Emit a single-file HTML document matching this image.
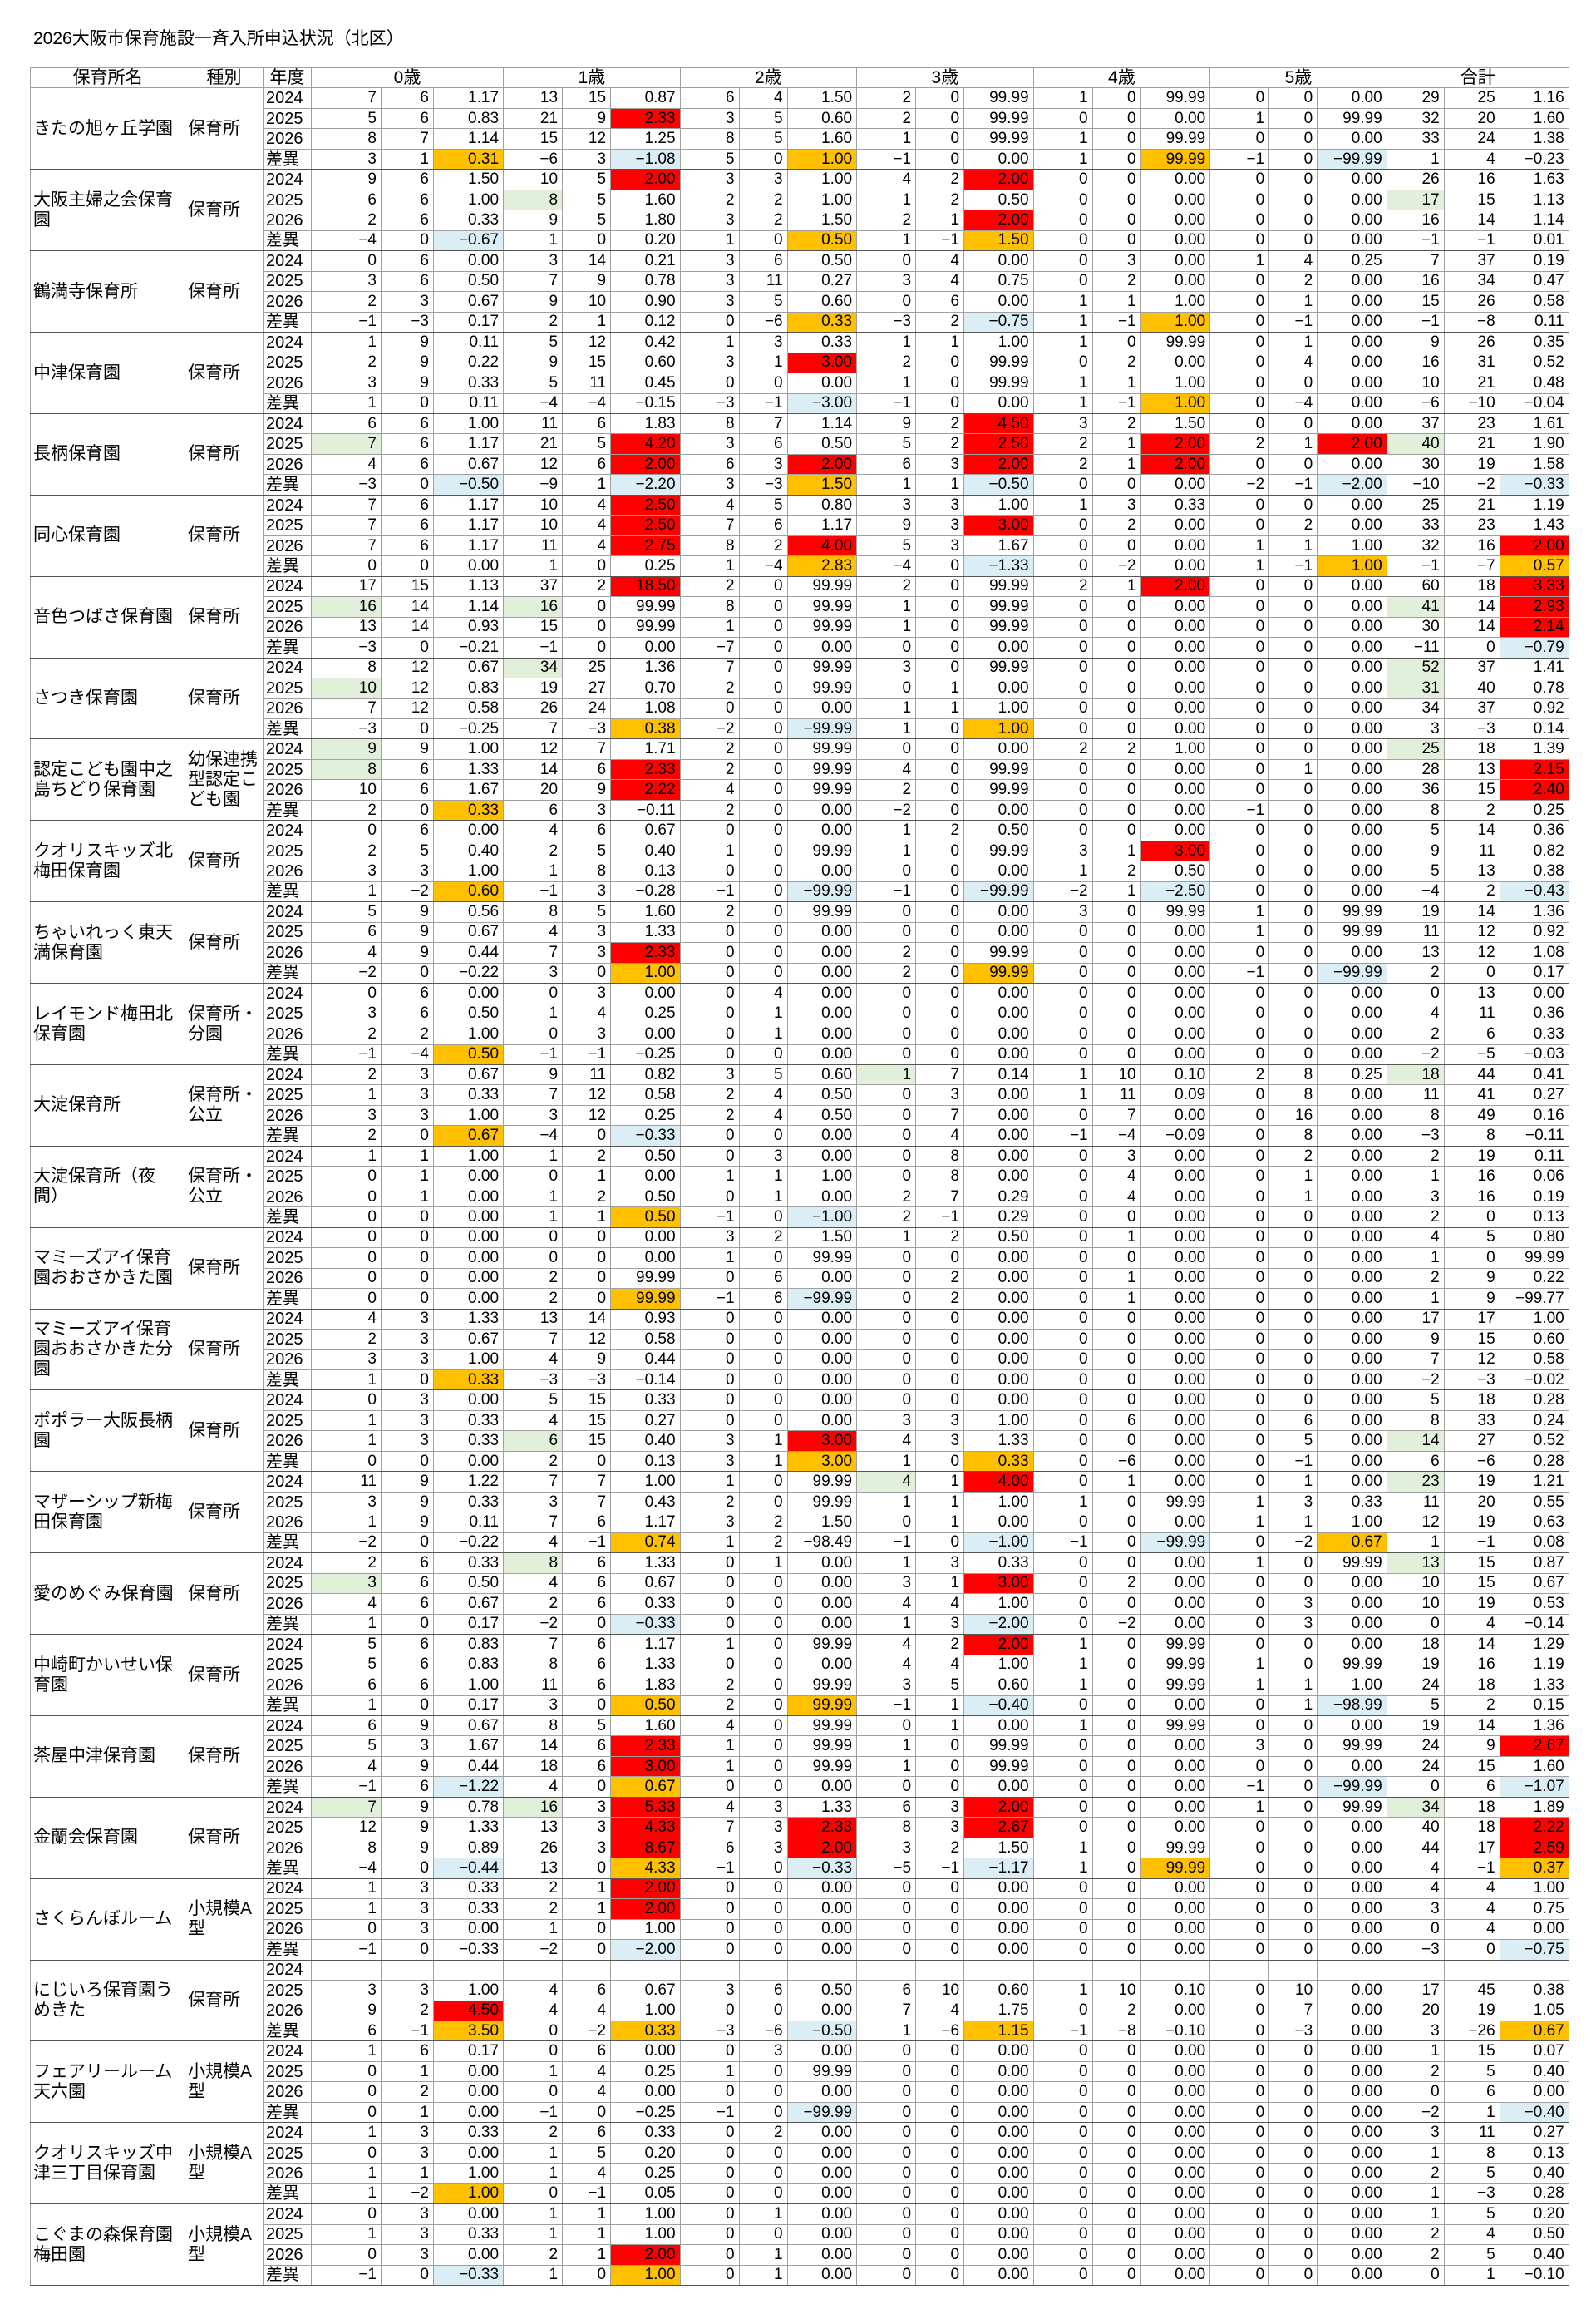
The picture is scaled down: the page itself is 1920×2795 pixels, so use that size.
<!DOCTYPE html>
<html><head><meta charset="utf-8">
<style>
body{margin:0;background:#fff;width:1920px;height:2795px;position:relative;font-family:"Liberation Sans","Noto Sans CJK JP",sans-serif;color:#000}
#title{position:absolute;left:40px;top:30px;font-size:21px;white-space:nowrap}
table{position:absolute;left:36px;top:81px;border-collapse:collapse;table-layout:fixed;width:1851px}
td{border:1px solid #a0a0a0;padding:0;height:23.48px;font-size:19px;line-height:20px;overflow:hidden;white-space:nowrap}
td.n{text-align:right;padding-right:5px}
td.yr{padding-left:3px;font-size:20px}
td.nm{white-space:normal;font-size:21px;line-height:24px;padding-left:3px;padding-right:5px;border-bottom:1px solid #555}
td.tp{white-space:normal;font-size:21px;line-height:24px;padding-left:3px;border-bottom:1px solid #555}
td.h{text-align:center;font-size:21px}
td.gl{border-left:1px solid #555}
tr.last td{border-bottom:1px solid #555}
.R{background:#ff0000}.Y{background:#ffc000}.B{background:#dbeef6}.G{background:#e2efda}
</style></head><body>
<div id="title">2026大阪市保育施設一斉入所申込状況（北区）</div>
<table id="t"><colgroup>
<col style="width:186px"><col style="width:94px"><col style="width:58px">
<col style="width:84px"><col style="width:63px"><col style="width:84px">
<col style="width:71px"><col style="width:58px"><col style="width:83.5px">
<col style="width:71px"><col style="width:58px"><col style="width:83.5px">
<col style="width:71px"><col style="width:58px"><col style="width:83.5px">
<col style="width:71px"><col style="width:58px"><col style="width:83.5px">
<col style="width:71px"><col style="width:58px"><col style="width:83.5px">
<col style="width:69px"><col style="width:67px"><col style="width:83px">
</colgroup><tbody id="tb"></tbody></table>
<script>
const Z="0 0 0.00";
const F=[
["きたの旭ヶ丘学園","保育所",[
"7 6 1.17|13 15 0.87|6 4 1.50|2 0 99.99|1 0 99.99|0 0 0.00|29 25 1.16",
"5 6 0.83|21 9 2.33R|3 5 0.60|2 0 99.99|0 0 0.00|1 0 99.99|32 20 1.60",
"8 7 1.14|15 12 1.25|8 5 1.60|1 0 99.99|1 0 99.99|0 0 0.00|33 24 1.38",
"3 1 0.31Y|-6 3 -1.08B|5 0 1.00Y|-1 0 0.00|1 0 99.99Y|-1 0 -99.99B|1 4 -0.23"]],
["大阪主婦之会保育園","保育所",[
"9 6 1.50|10 5 2.00R|3 3 1.00|4 2 2.00R|Z|Z|26 16 1.63",
"6 6 1.00|8G 5 1.60|2 2 1.00|1 2 0.50|Z|Z|17G 15 1.13",
"2 6 0.33|9 5 1.80|3 2 1.50|2 1 2.00R|Z|Z|16 14 1.14",
"-4 0 -0.67B|1 0 0.20|1 0 0.50Y|1 -1 1.50Y|Z|Z|-1 -1 0.01"]],
["鶴満寺保育所","保育所",[
"0 6 0.00|3 14 0.21|3 6 0.50|0 4 0.00|0 3 0.00|1 4 0.25|7 37 0.19",
"3 6 0.50|7 9 0.78|3 11 0.27|3 4 0.75|0 2 0.00|0 2 0.00|16 34 0.47",
"2 3 0.67|9 10 0.90|3 5 0.60|0 6 0.00|1 1 1.00|0 1 0.00|15 26 0.58",
"-1 -3 0.17|2 1 0.12|0 -6 0.33Y|-3 2 -0.75B|1 -1 1.00Y|0 -1 0.00|-1 -8 0.11"]],
["中津保育園","保育所",[
"1 9 0.11|5 12 0.42|1 3 0.33|1 1 1.00|1 0 99.99|0 1 0.00|9 26 0.35",
"2 9 0.22|9 15 0.60|3 1 3.00R|2 0 99.99|0 2 0.00|0 4 0.00|16 31 0.52",
"3 9 0.33|5 11 0.45|0 0 0.00|1 0 99.99|1 1 1.00|0 0 0.00|10 21 0.48",
"1 0 0.11|-4 -4 -0.15|-3 -1 -3.00B|-1 0 0.00|1 -1 1.00Y|0 -4 0.00|-6 -10 -0.04"]],
["長柄保育園","保育所",[
"6 6 1.00|11 6 1.83|8 7 1.14|9 2 4.50R|3 2 1.50|0 0 0.00|37 23 1.61",
"7G 6 1.17|21 5 4.20R|3 6 0.50|5 2 2.50R|2 1 2.00R|2 1 2.00R|40G 21 1.90",
"4 6 0.67|12 6 2.00R|6 3 2.00R|6 3 2.00R|2 1 2.00R|0 0 0.00|30 19 1.58",
"-3 0 -0.50B|-9 1 -2.20B|3 -3 1.50Y|1 1 -0.50B|0 0 0.00|-2 -1 -2.00B|-10 -2 -0.33B"]],
["同心保育園","保育所",[
"7 6 1.17|10 4 2.50R|4 5 0.80|3 3 1.00|1 3 0.33|0 0 0.00|25 21 1.19",
"7 6 1.17|10 4 2.50R|7 6 1.17|9 3 3.00R|0 2 0.00|0 2 0.00|33 23 1.43",
"7 6 1.17|11 4 2.75R|8 2 4.00R|5 3 1.67|0 0 0.00|1 1 1.00|32 16 2.00R",
"0 0 0.00|1 0 0.25|1 -4 2.83Y|-4 0 -1.33B|0 -2 0.00|1 -1 1.00Y|-1 -7 0.57Y"]],
["音色つばさ保育園","保育所",[
"17 15 1.13|37 2 18.50R|2 0 99.99|2 0 99.99|2 1 2.00R|Z|60 18 3.33R",
"16G 14 1.14|16G 0 99.99|8 0 99.99|1 0 99.99|Z|Z|41G 14 2.93R",
"13 14 0.93|15 0 99.99|1 0 99.99|1 0 99.99|Z|Z|30 14 2.14R",
"-3 0 -0.21|-1 0 0.00|-7 0 0.00|Z|Z|Z|-11 0 -0.79B"]],
["さつき保育園","保育所",[
"8 12 0.67|34G 25 1.36|7 0 99.99|3 0 99.99|Z|Z|52G 37 1.41",
"10G 12 0.83|19 27 0.70|2 0 99.99|0 1 0.00|Z|Z|31G 40 0.78",
"7 12 0.58|26 24 1.08|0 0 0.00|1 1 1.00|Z|Z|34 37 0.92",
"-3 0 -0.25|7 -3 0.38Y|-2 0 -99.99B|1 0 1.00Y|Z|Z|3 -3 0.14"]],
["認定こども園中之島ちどり保育園","幼保連携型認定こども園",[
"9G 9 1.00|12 7 1.71|2 0 99.99|Z|2 2 1.00|Z|25G 18 1.39",
"8G 6 1.33|14 6 2.33R|2 0 99.99|4 0 99.99|Z|0 1 0.00|28 13 2.15R",
"10 6 1.67|20 9 2.22R|4 0 99.99|2 0 99.99|Z|Z|36 15 2.40R",
"2 0 0.33Y|6 3 -0.11|2 0 0.00|-2 0 0.00|Z|-1 0 0.00|8 2 0.25"]],
["クオリスキッズ北梅田保育園","保育所",[
"0 6 0.00|4 6 0.67|Z|1 2 0.50|Z|Z|5 14 0.36",
"2 5 0.40|2 5 0.40|1 0 99.99|1 0 99.99|3 1 3.00R|Z|9 11 0.82",
"3 3 1.00|1 8 0.13|Z|Z|1 2 0.50|Z|5 13 0.38",
"1 -2 0.60Y|-1 3 -0.28|-1 0 -99.99B|-1 0 -99.99B|-2 1 -2.50B|Z|-4 2 -0.43B"]],
["ちゃいれっく東天満保育園","保育所",[
"5 9 0.56|8 5 1.60|2 0 99.99|Z|3 0 99.99|1 0 99.99|19 14 1.36",
"6 9 0.67|4 3 1.33|Z|Z|Z|1 0 99.99|11 12 0.92",
"4 9 0.44|7 3 2.33R|Z|2 0 99.99|Z|Z|13 12 1.08",
"-2 0 -0.22|3 0 1.00Y|Z|2 0 99.99Y|Z|-1 0 -99.99B|2 0 0.17"]],
["レイモンド梅田北保育園","保育所・分園",[
"0 6 0.00|0 3 0.00|0 4 0.00|Z|Z|Z|0 13 0.00",
"3 6 0.50|1 4 0.25|0 1 0.00|Z|Z|Z|4 11 0.36",
"2 2 1.00|0 3 0.00|0 1 0.00|Z|Z|Z|2 6 0.33",
"-1 -4 0.50Y|-1 -1 -0.25|Z|Z|Z|Z|-2 -5 -0.03"]],
["大淀保育所","保育所・公立",[
"2 3 0.67|9 11 0.82|3 5 0.60|1G 7 0.14|1 10 0.10|2 8 0.25|18G 44 0.41",
"1 3 0.33|7 12 0.58|2 4 0.50|0 3 0.00|1 11 0.09|0 8 0.00|11 41 0.27",
"3 3 1.00|3 12 0.25|2 4 0.50|0 7 0.00|0 7 0.00|0 16 0.00|8 49 0.16",
"2 0 0.67Y|-4 0 -0.33B|Z|0 4 0.00|-1 -4 -0.09|0 8 0.00|-3 8 -0.11"]],
["大淀保育所（夜間）","保育所・公立",[
"1 1 1.00|1 2 0.50|0 3 0.00|0 8 0.00|0 3 0.00|0 2 0.00|2 19 0.11",
"0 1 0.00|0 1 0.00|1 1 1.00|0 8 0.00|0 4 0.00|0 1 0.00|1 16 0.06",
"0 1 0.00|1 2 0.50|0 1 0.00|2 7 0.29|0 4 0.00|0 1 0.00|3 16 0.19",
"Z|1 1 0.50Y|-1 0 -1.00B|2 -1 0.29|Z|Z|2 0 0.13"]],
["マミーズアイ保育園おおさかきた園","保育所",[
"Z|Z|3 2 1.50|1 2 0.50|0 1 0.00|Z|4 5 0.80",
"Z|Z|1 0 99.99|Z|Z|Z|1 0 99.99",
"Z|2 0 99.99|0 6 0.00|0 2 0.00|0 1 0.00|Z|2 9 0.22",
"Z|2 0 99.99Y|-1 6 -99.99B|0 2 0.00|0 1 0.00|Z|1 9 -99.77"]],
["マミーズアイ保育園おおさかきた分園","保育所",[
"4 3 1.33|13 14 0.93|Z|Z|Z|Z|17 17 1.00",
"2 3 0.67|7 12 0.58|Z|Z|Z|Z|9 15 0.60",
"3 3 1.00|4 9 0.44|Z|Z|Z|Z|7 12 0.58",
"1 0 0.33Y|-3 -3 -0.14|Z|Z|Z|Z|-2 -3 -0.02"]],
["ポポラー大阪長柄園","保育所",[
"0 3 0.00|5 15 0.33|Z|Z|Z|Z|5 18 0.28",
"1 3 0.33|4 15 0.27|Z|3 3 1.00|0 6 0.00|0 6 0.00|8 33 0.24",
"1 3 0.33|6G 15 0.40|3 1 3.00R|4 3 1.33|Z|0 5 0.00|14G 27 0.52",
"Z|2 0 0.13|3 1 3.00Y|1 0 0.33Y|0 -6 0.00|0 -1 0.00|6 -6 0.28"]],
["マザーシップ新梅田保育園","保育所",[
"11 9 1.22|7 7 1.00|1 0 99.99|4G 1 4.00R|0 1 0.00|0 1 0.00|23G 19 1.21",
"3 9 0.33|3 7 0.43|2 0 99.99|1 1 1.00|1 0 99.99|1 3 0.33|11 20 0.55",
"1 9 0.11|7 6 1.17|3 2 1.50|0 1 0.00|Z|1 1 1.00|12 19 0.63",
"-2 0 -0.22|4 -1 0.74Y|1 2 -98.49|-1 0 -1.00B|-1 0 -99.99B|0 -2 0.67Y|1 -1 0.08"]],
["愛のめぐみ保育園","保育所",[
"2 6 0.33|8G 6 1.33|0 1 0.00|1 3 0.33|Z|1 0 99.99|13G 15 0.87",
"3G 6 0.50|4 6 0.67|Z|3 1 3.00R|0 2 0.00|Z|10 15 0.67",
"4 6 0.67|2 6 0.33|Z|4 4 1.00|Z|0 3 0.00|10 19 0.53",
"1 0 0.17|-2 0 -0.33B|Z|1 3 -2.00B|0 -2 0.00|0 3 0.00|0 4 -0.14"]],
["中崎町かいせい保育園","保育所",[
"5 6 0.83|7 6 1.17|1 0 99.99|4 2 2.00R|1 0 99.99|Z|18 14 1.29",
"5 6 0.83|8 6 1.33|Z|4 4 1.00|1 0 99.99|1 0 99.99|19 16 1.19",
"6 6 1.00|11 6 1.83|2 0 99.99|3 5 0.60|1 0 99.99|1 1 1.00|24 18 1.33",
"1 0 0.17|3 0 0.50Y|2 0 99.99Y|-1 1 -0.40B|Z|0 1 -98.99B|5 2 0.15"]],
["茶屋中津保育園","保育所",[
"6 9 0.67|8 5 1.60|4 0 99.99|0 1 0.00|1 0 99.99|Z|19 14 1.36",
"5 3 1.67|14 6 2.33R|1 0 99.99|1 0 99.99|Z|3 0 99.99|24 9 2.67R",
"4 9 0.44|18 6 3.00R|1 0 99.99|1 0 99.99|Z|Z|24 15 1.60",
"-1 6 -1.22B|4 0 0.67Y|Z|Z|Z|-1 0 -99.99B|0 6 -1.07B"]],
["金蘭会保育園","保育所",[
"7G 9 0.78|16G 3 5.33R|4 3 1.33|6 3 2.00R|Z|1 0 99.99|34G 18 1.89",
"12 9 1.33|13 3 4.33R|7 3 2.33R|8 3 2.67R|Z|Z|40 18 2.22R",
"8 9 0.89|26 3 8.67R|6 3 2.00R|3 2 1.50|1 0 99.99|Z|44 17 2.59R",
"-4 0 -0.44B|13 0 4.33Y|-1 0 -0.33B|-5 -1 -1.17B|1 0 99.99Y|Z|4 -1 0.37Y"]],
["さくらんぼルーム","小規模A型",[
"1 3 0.33|2 1 2.00R|Z|Z|Z|Z|4 4 1.00",
"1 3 0.33|2 1 2.00R|Z|Z|Z|Z|3 4 0.75",
"0 3 0.00|1 0 1.00|Z|Z|Z|Z|0 4 0.00",
"-1 0 -0.33|-2 0 -2.00B|Z|Z|Z|Z|-3 0 -0.75B"]],
["にじいろ保育園うめきた","保育所",[
"",
"3 3 1.00|4 6 0.67|3 6 0.50|6 10 0.60|1 10 0.10|0 10 0.00|17 45 0.38",
"9 2 4.50R|4 4 1.00|Z|7 4 1.75|0 2 0.00|0 7 0.00|20 19 1.05",
"6 -1 3.50Y|0 -2 0.33Y|-3 -6 -0.50B|1 -6 1.15Y|-1 -8 -0.10|0 -3 0.00|3 -26 0.67Y"]],
["フェアリールーム天六園","小規模A型",[
"1 6 0.17|0 6 0.00|0 3 0.00|Z|Z|Z|1 15 0.07",
"0 1 0.00|1 4 0.25|1 0 99.99|Z|Z|Z|2 5 0.40",
"0 2 0.00|0 4 0.00|Z|Z|Z|Z|0 6 0.00",
"0 1 0.00|-1 0 -0.25|-1 0 -99.99B|Z|Z|Z|-2 1 -0.40B"]],
["クオリスキッズ中津三丁目保育園","小規模A型",[
"1 3 0.33|2 6 0.33|0 2 0.00|Z|Z|Z|3 11 0.27",
"0 3 0.00|1 5 0.20|Z|Z|Z|Z|1 8 0.13",
"1 1 1.00|1 4 0.25|Z|Z|Z|Z|2 5 0.40",
"1 -2 1.00Y|0 -1 0.05|Z|Z|Z|Z|1 -3 0.28"]],
["こぐまの森保育園梅田園","小規模A型",[
"0 3 0.00|1 1 1.00|0 1 0.00|Z|Z|Z|1 5 0.20",
"1 3 0.33|1 1 1.00|Z|Z|Z|Z|2 4 0.50",
"0 3 0.00|2 1 2.00R|0 1 0.00|Z|Z|Z|2 5 0.40",
"-1 0 -0.33B|1 0 1.00Y|0 1 0.00|Z|Z|Z|0 1 -0.10"]]
];
const yrs=["2024","2025","2026","差異"];
let h='<tr><td class="h">保育所名</td><td class="h">種別</td><td class="h">年度</td>';
["0歳","1歳","2歳","3歳","4歳","5歳","合計"].forEach(g=>h+='<td class="h gl" colspan="3">'+g+'</td>');
h+='</tr>';
function cell(v,gl){let c="n"+(gl?" gl":"");const m=v.match(/[RYBG]$/);if(m){c+=" "+m[0];v=v.slice(0,-1);}v=v.replace(/-/g,"−");return '<td class="'+c+'">'+v+'</td>';}
F.forEach(f=>{
 f[2].forEach((r,i)=>{
  h+='<tr'+(i==3?' class="last"':'')+'>';
  if(i==0)h+='<td class="nm" rowspan="4">'+f[0]+'</td><td class="tp" rowspan="4">'+f[1]+'</td>';
  h+='<td class="yr">'+yrs[i]+'</td>';
  if(r===""){for(let k=0;k<21;k++)h+='<td class="n'+(k%3==0?' gl':'')+'"></td>';}
  else{r.split("|").forEach(g=>{const p=(g==="Z"?Z:g).split(" ");p.forEach((v,k)=>h+=cell(v,k==0));});}
  h+='</tr>';
 });
});
document.getElementById("tb").innerHTML=h;
</script>
</body></html>
